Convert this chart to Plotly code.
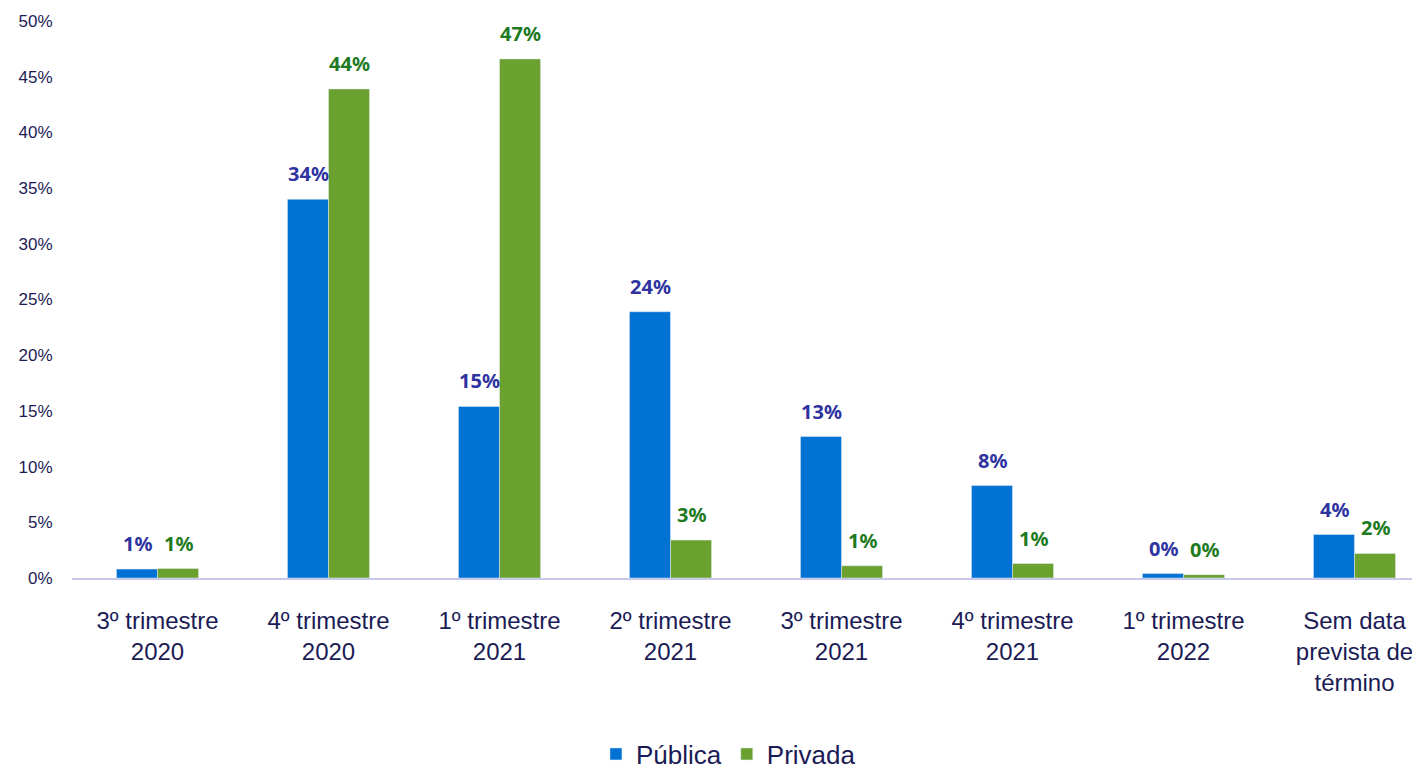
import plotly.graph_objects as go

categories = [
    "3º trimestre<br>2020",
    "4º trimestre<br>2020",
    "1º trimestre<br>2021",
    "2º trimestre<br>2021",
    "3º trimestre<br>2021",
    "4º trimestre<br>2021",
    "1º trimestre<br>2022",
    "Sem data<br>prevista de<br>término",
]
publica = [0.008, 0.340, 0.154, 0.239, 0.127, 0.083, 0.004, 0.039]
privada = [0.0085, 0.439, 0.466, 0.034, 0.011, 0.013, 0.003, 0.022]

narrow = "Liberation Sans Narrow, Arial Narrow, Liberation Sans, sans-serif"
navy = "#1B1B55"

fig = go.Figure()
fig.add_trace(go.Bar(x=categories, y=publica, name="Pública", marker_color="#0072D4"))
fig.add_trace(go.Bar(x=categories, y=privada, name="Privada", marker_color="#6AA12F"))

# value labels sit a bit higher above the bars than plotly's outside text
series = [(publica, "#2E33A0", -20.5), (privada, "#1E7A1E", 20.5)]
for values, color, shift in series:
    for cat, v in zip(categories, values):
        fig.add_annotation(
            x=cat, y=v, text=f"{v:.0%}", showarrow=False,
            yanchor="bottom", xshift=shift, yshift=10,
            font=dict(family="Noto Sans", size=20, color=color, weight="bold"),
        )

# page body adds an 8px offset, so the figure is 8px smaller than the window
fig.update_layout(
    width=1412, height=765,
    margin=dict(l=64, r=0, t=13, b=195, autoexpand=False),
    paper_bgcolor="white",
    plot_bgcolor="rgba(0,0,0,0)",
    barmode="group",
    bargap=0.52,
    bargroupgap=0,
    font=dict(family=narrow, color=navy),
    legend=dict(
        orientation="h", x=0.487, xanchor="center", y=-0.316, yanchor="middle",
        font=dict(family=narrow, size=26, color=navy),
        itemwidth=30,
    ),
)
# the original plot area runs a little past the right edge of the picture
fig.update_xaxes(
    range=[-0.5, 7.383],
    showline=True, linecolor="#C8C8EC", linewidth=2,
    tickfont=dict(family=narrow, size=24, color=navy),
    ticks="outside", ticklen=20, tickcolor="rgba(0,0,0,0)",
    automargin=False,
)
fig.update_yaxes(
    range=[0, 0.5], dtick=0.05, tickformat=".0%",
    showgrid=False, zeroline=False,
    tickfont=dict(family="Liberation Sans, Arial", size=17, color=navy),
    ticks="outside", ticklen=15, tickcolor="rgba(0,0,0,0)",
    automargin=False,
)

fig.write_html("out.html")
